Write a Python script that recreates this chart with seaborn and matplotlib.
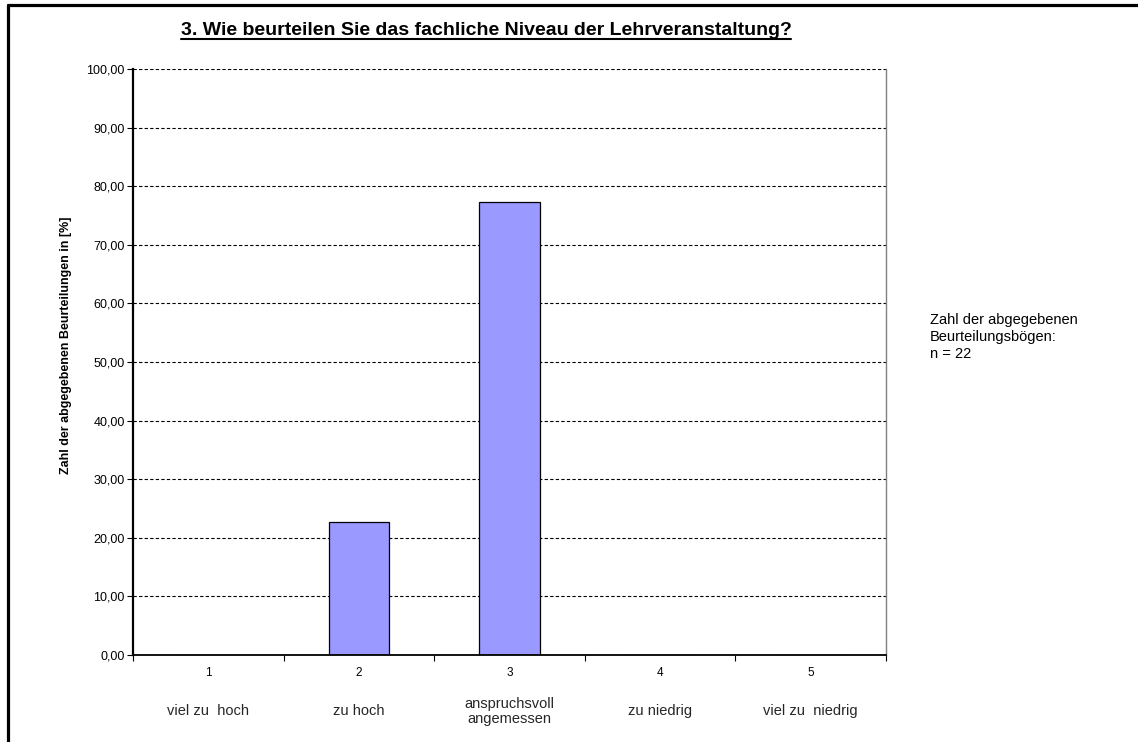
import matplotlib
matplotlib.use("Agg")
import matplotlib.pyplot as plt
from matplotlib.lines import Line2D
from matplotlib.ticker import FixedLocator, FuncFormatter
import seaborn as sns
import pandas as pd

# data (n = 22 -> 5/22 and 17/22)
categories = ["1", "2", "3", "4", "5"]
category_names = ["viel zu  hoch", "zu hoch", "anspruchsvoll\nangemessen",
                  "zu niedrig", "viel zu  niedrig"]
percent = [0.0, 22.73, 77.27, 0.0, 0.0]
y_ticks = [0, 10, 20, 30, 40, 50, 60, 70, 80, 90, 100]

title = "3. Wie beurteilen Sie das fachliche Niveau der Lehrveranstaltung?"
y_label = "Zahl der abgegebenen Beurteilungen in [%]"
note = "Zahl der abgegebenen\nBeurteilungsbögen:\nn = 22"

sns.set_theme(style="white")
plt.rcParams["font.family"] = ["Liberation Sans", "DejaVu Sans"]

df = pd.DataFrame({"cat": categories, "pct": percent})

W, H = 1138, 742
fig = plt.figure(figsize=(W / 100, H / 100), dpi=100)
ax = fig.add_axes([133 / W, 1 - 655 / H, (886 - 133) / W, (655 - 69) / H])

sns.barplot(data=df, x="cat", y="pct", order=categories, color="#9999FF",
            saturation=1, width=0.4, edgecolor="black", linewidth=0.9, ax=ax)

ax.set_xlim(-0.5, len(categories) - 0.5)
ax.set_ylim(0, 100)

# dashed horizontal grid
for v in y_ticks[1:]:
    ax.axhline(v, color="black", lw=0.8, ls=(0, (3, 2)), zorder=0)

ax.set_yticks(y_ticks)
ax.yaxis.set_major_formatter(FuncFormatter(lambda v, p: f"{v:.2f}".replace(".", ",")))
ax.tick_params(axis="y", length=4, width=0.8, color="black", labelsize=9,
               labelcolor="black", pad=2, left=True)

# ticks between categories, labels at the centres
ax.xaxis.set_major_locator(FixedLocator([i - 0.5 for i in range(len(categories) + 1)]))
ax.xaxis.set_major_formatter(FuncFormatter(lambda v, p: ""))
ax.xaxis.set_minor_locator(FixedLocator(range(len(categories))))
ax.set_xticklabels(categories, minor=True)
ax.tick_params(axis="x", which="major", length=4, width=0.8, color="black", bottom=True)
ax.tick_params(axis="x", which="minor", length=0, labelsize=8.5, pad=9, labelcolor="black")

for i, name in enumerate(category_names):
    ax.text(i, -9.6, name, ha="center", va="center", fontsize=10.5,
            transform=ax.transData, linespacing=1.1)

ax.set_xlabel("")
ax.set_ylabel("")
# y label sits a bit above the axis centre in the original
fig.text(66 / W, 1 - 345 / H, y_label, rotation=90, ha="center", va="center",
         fontsize=9, fontweight="bold", color="black")

ax.spines["top"].set_visible(False)
ax.spines["left"].set_color("black")
ax.spines["left"].set_linewidth(1.6)
ax.spines["bottom"].set_color("black")
ax.spines["bottom"].set_linewidth(1.3)
ax.spines["right"].set_color("#808080")
ax.spines["right"].set_linewidth(1.0)

t = fig.text(486 / W, 1 - 35 / H, title, ha="center", va="baseline", fontsize=14,
             fontweight="bold", color="black")
# underline of the title, taken from the drawn text width
fig.canvas.draw()
bb = t.get_window_extent().transformed(fig.transFigure.inverted())
fig.add_artist(Line2D([bb.x0, bb.x1], [1 - 38.5 / H, 1 - 38.5 / H], color="black", lw=1.5))

fig.text(930 / W, 1 - 337 / H, note, ha="left", va="center", fontsize=10.5,
         linespacing=1.25, color="black")

# frame lines of the page
fig.add_artist(Line2D([8 / W, 1.0], [1 - 5 / H, 1 - 5 / H], color="black", lw=2.3))
fig.add_artist(Line2D([8 / W, 8 / W], [0.0, 1 - 5 / H], color="black", lw=2.3))

fig.savefig("out.png", dpi=100)
